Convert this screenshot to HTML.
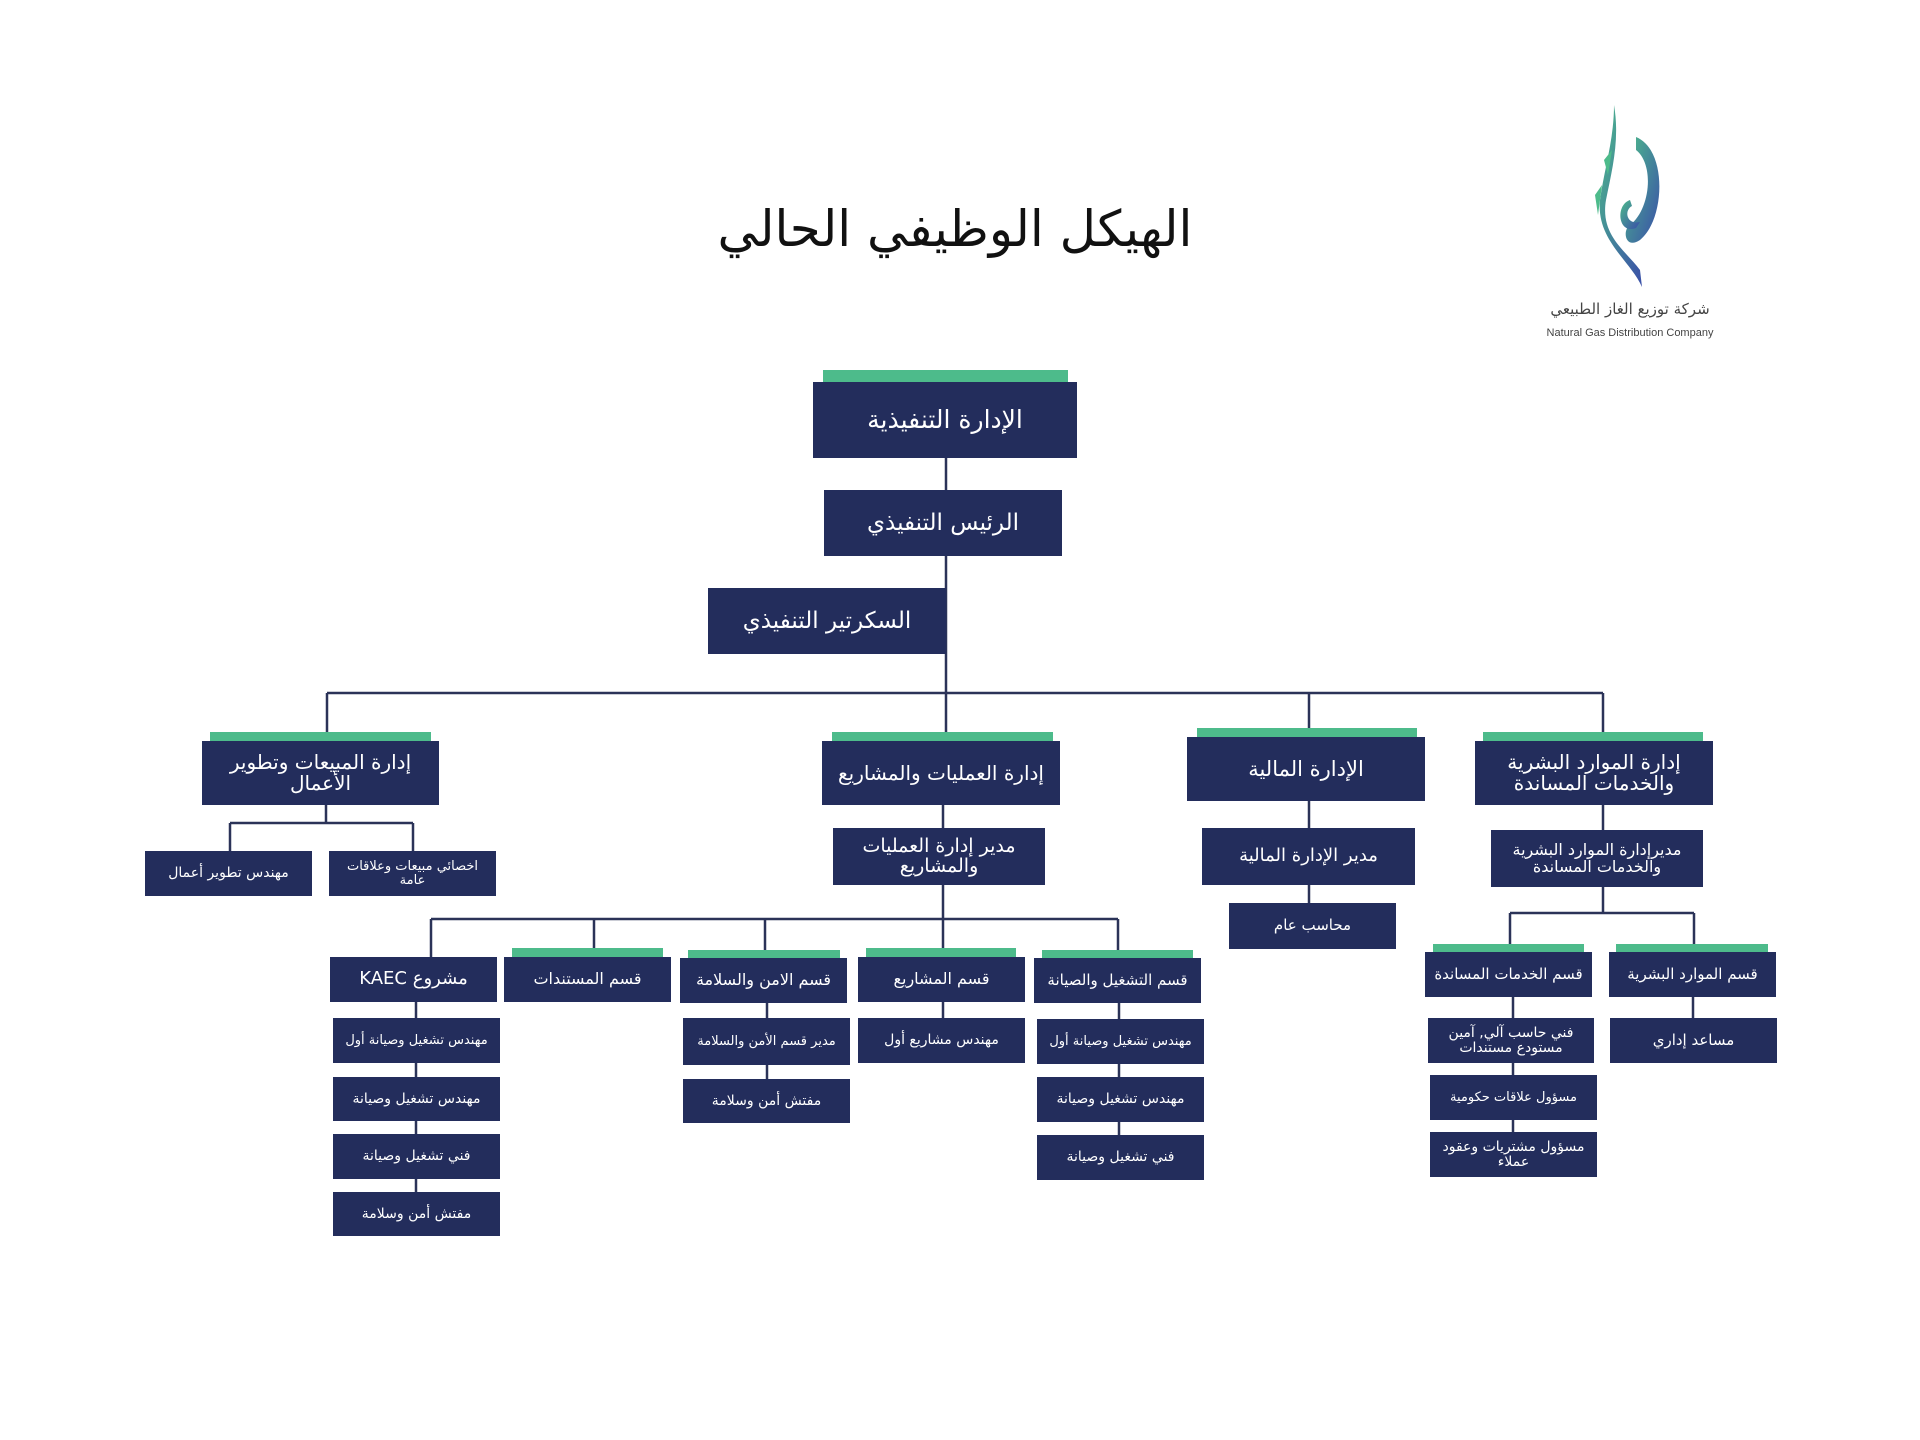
<!DOCTYPE html>
<html><head><meta charset="utf-8"><style>
body{margin:0;width:1920px;height:1440px;background:#fff;position:relative;overflow:hidden;font-family:"DejaVu Sans",sans-serif}
.b{position:absolute;background:#232d5c;color:#fff;display:flex;align-items:center;justify-content:center;text-align:center;direction:rtl;line-height:1.05;box-sizing:border-box;padding:0 4px}
.g{position:absolute;background:#4dbb8b}
svg{position:absolute;left:0;top:0}
</style></head><body>
<svg width="1920" height="1440">
<g stroke="#2b3358" stroke-width="2.5" fill="none">
<line x1="946" y1="458" x2="946" y2="737"/>
<line x1="327" y1="693" x2="1603" y2="693"/>
<line x1="327" y1="693" x2="327" y2="732"/>
<line x1="1309" y1="693" x2="1309" y2="728"/>
<line x1="1603" y1="693" x2="1603" y2="732"/>
<line x1="326" y1="805" x2="326" y2="823"/>
<line x1="230" y1="823" x2="413" y2="823"/>
<line x1="230" y1="823" x2="230" y2="851"/>
<line x1="413" y1="823" x2="413" y2="851"/>
<line x1="943" y1="805" x2="943" y2="919"/>
<line x1="431" y1="919" x2="1118" y2="919"/>
<line x1="431" y1="919" x2="431" y2="957"/>
<line x1="594" y1="919" x2="594" y2="948"/>
<line x1="765" y1="919" x2="765" y2="950"/>
<line x1="943" y1="919" x2="943" y2="948"/>
<line x1="1118" y1="919" x2="1118" y2="950"/>
<line x1="416" y1="1002" x2="416" y2="1192"/>
<line x1="767" y1="1003" x2="767" y2="1079"/>
<line x1="943" y1="1002" x2="943" y2="1018"/>
<line x1="1119" y1="1003" x2="1119" y2="1135"/>
<line x1="1309" y1="801" x2="1309" y2="903"/>
<line x1="1603" y1="805" x2="1603" y2="913"/>
<line x1="1510" y1="913" x2="1694" y2="913"/>
<line x1="1510" y1="913" x2="1510" y2="952"/>
<line x1="1694" y1="913" x2="1694" y2="952"/>
<line x1="1513" y1="997" x2="1513" y2="1132"/>
<line x1="1693" y1="997" x2="1693" y2="1018"/>
</g>
<defs><linearGradient id="lg" x1="0" y1="0" x2="1" y2="1"><stop offset="0" stop-color="#4dbb8b"/><stop offset="1" stop-color="#3a4fa8"/></linearGradient></defs>
<path d="M1614 105 C1620 140 1612 170 1606 200 C1600 235 1625 250 1640 270 L1642 287 C1630 260 1596 240 1600 200 C1604 170 1614 140 1614 105Z" fill="url(#lg)"/>
<path d="M1636 137 C1668 150 1665 220 1640 240 C1625 250 1622 230 1630 225 C1650 210 1655 165 1636 150Z" fill="url(#lg)"/>
<path d="M1630 200 C1615 205 1618 235 1636 228 L1640 222 C1626 225 1624 210 1632 206Z" fill="url(#lg)"/>
<path d="M1612 150 L1608 175 L1604 160Z M1602 185 L1598 215 L1595 195Z" fill="#4dbb8b"/>
<text x="1630" y="314" text-anchor="middle" font-family="DejaVu Sans" font-size="15" fill="#444" direction="rtl">شركة توزيع الغاز الطبيعي</text>
<text x="1630" y="336" text-anchor="middle" font-family="Liberation Sans" font-size="11" fill="#444">Natural Gas Distribution Company</text>
</svg>
<div style="position:absolute;left:555px;top:200px;width:800px;text-align:center;direction:rtl;font-size:50px;white-space:nowrap;color:#111;font-weight:normal">الهيكل الوظيفي الحالي</div>

<div class="g" style="left:823px;top:370px;width:245px;height:12px"></div>
<div class="b" style="left:813px;top:382px;width:264px;height:76px;font-size:25px">الإدارة التنفيذية</div>
<div class="b" style="left:824px;top:490px;width:238px;height:66px;font-size:23px">الرئيس التنفيذي</div>
<div class="b" style="left:708px;top:588px;width:238px;height:66px;font-size:23px">السكرتير التنفيذي</div>

<div class="g" style="left:210px;top:732px;width:221px;height:9px"></div>
<div class="b" style="left:202px;top:741px;width:237px;height:64px;font-size:20px">إدارة المبيعات وتطوير الأعمال</div>
<div class="b" style="left:145px;top:851px;width:167px;height:45px;font-size:14px">مهندس تطوير أعمال</div>
<div class="b" style="left:329px;top:851px;width:167px;height:45px;font-size:13px">اخصائي مبيعات وعلاقات عامة</div>

<div class="g" style="left:832px;top:732px;width:221px;height:9px"></div>
<div class="b" style="left:822px;top:741px;width:238px;height:64px;font-size:20px">إدارة العمليات والمشاريع</div>
<div class="b" style="left:833px;top:828px;width:212px;height:57px;font-size:19px">مدير إدارة العمليات والمشاريع</div>

<div class="g" style="left:1197px;top:728px;width:220px;height:9px"></div>
<div class="b" style="left:1187px;top:737px;width:238px;height:64px;font-size:21px">الإدارة المالية</div>
<div class="b" style="left:1202px;top:828px;width:213px;height:57px;font-size:18px">مدير الإدارة المالية</div>
<div class="b" style="left:1229px;top:903px;width:167px;height:46px;font-size:15px">محاسب عام</div>

<div class="g" style="left:1483px;top:732px;width:220px;height:9px"></div>
<div class="b" style="left:1475px;top:741px;width:238px;height:64px;font-size:20px">إدارة الموارد البشرية والخدمات المساندة</div>
<div class="b" style="left:1491px;top:830px;width:212px;height:57px;font-size:16px">مديرإدارة الموارد البشرية والخدمات المساندة</div>

<div class="b" style="left:330px;top:957px;width:167px;height:45px;font-size:18px">مشروع KAEC</div>
<div class="g" style="left:512px;top:948px;width:151px;height:9px"></div>
<div class="b" style="left:504px;top:957px;width:167px;height:45px;font-size:16px">قسم المستندات</div>
<div class="g" style="left:688px;top:950px;width:152px;height:8px"></div>
<div class="b" style="left:680px;top:958px;width:167px;height:45px;font-size:16px">قسم الامن والسلامة</div>
<div class="g" style="left:866px;top:948px;width:150px;height:9px"></div>
<div class="b" style="left:858px;top:957px;width:167px;height:45px;font-size:16px">قسم المشاريع</div>
<div class="g" style="left:1042px;top:950px;width:151px;height:8px"></div>
<div class="b" style="left:1034px;top:958px;width:167px;height:45px;font-size:15px">قسم التشغيل والصيانة</div>

<div class="b" style="left:333px;top:1018px;width:167px;height:45px;font-size:13px">مهندس تشغيل وصيانة أول</div>
<div class="b" style="left:333px;top:1077px;width:167px;height:44px;font-size:14px">مهندس تشغيل وصيانة</div>
<div class="b" style="left:333px;top:1134px;width:167px;height:45px;font-size:14px">فني تشغيل وصيانة</div>
<div class="b" style="left:333px;top:1192px;width:167px;height:44px;font-size:14px">مفتش أمن وسلامة</div>

<div class="b" style="left:683px;top:1018px;width:167px;height:47px;font-size:13px">مدير قسم الأمن والسلامة</div>
<div class="b" style="left:683px;top:1079px;width:167px;height:44px;font-size:14px">مفتش أمن وسلامة</div>
<div class="b" style="left:858px;top:1018px;width:167px;height:45px;font-size:14px">مهندس مشاريع أول</div>
<div class="b" style="left:1037px;top:1019px;width:167px;height:45px;font-size:13px">مهندس تشغيل وصيانة أول</div>
<div class="b" style="left:1037px;top:1077px;width:167px;height:45px;font-size:14px">مهندس تشغيل وصيانة</div>
<div class="b" style="left:1037px;top:1135px;width:167px;height:45px;font-size:14px">فني تشغيل وصيانة</div>

<div class="g" style="left:1433px;top:944px;width:151px;height:8px"></div>
<div class="b" style="left:1425px;top:952px;width:167px;height:45px;font-size:15px">قسم الخدمات المساندة</div>
<div class="g" style="left:1616px;top:944px;width:152px;height:8px"></div>
<div class="b" style="left:1609px;top:952px;width:167px;height:45px;font-size:15px">قسم الموارد البشرية</div>
<div class="b" style="left:1428px;top:1018px;width:166px;height:45px;font-size:14px">فني حاسب آلي, آمين مستودع مستندات</div>
<div class="b" style="left:1430px;top:1075px;width:167px;height:45px;font-size:13px">مسؤول علاقات حكومية</div>
<div class="b" style="left:1430px;top:1132px;width:167px;height:45px;font-size:14px">مسؤول مشتريات وعقود عملاء</div>
<div class="b" style="left:1610px;top:1018px;width:167px;height:45px;font-size:15px">مساعد إداري</div>
</body></html>
